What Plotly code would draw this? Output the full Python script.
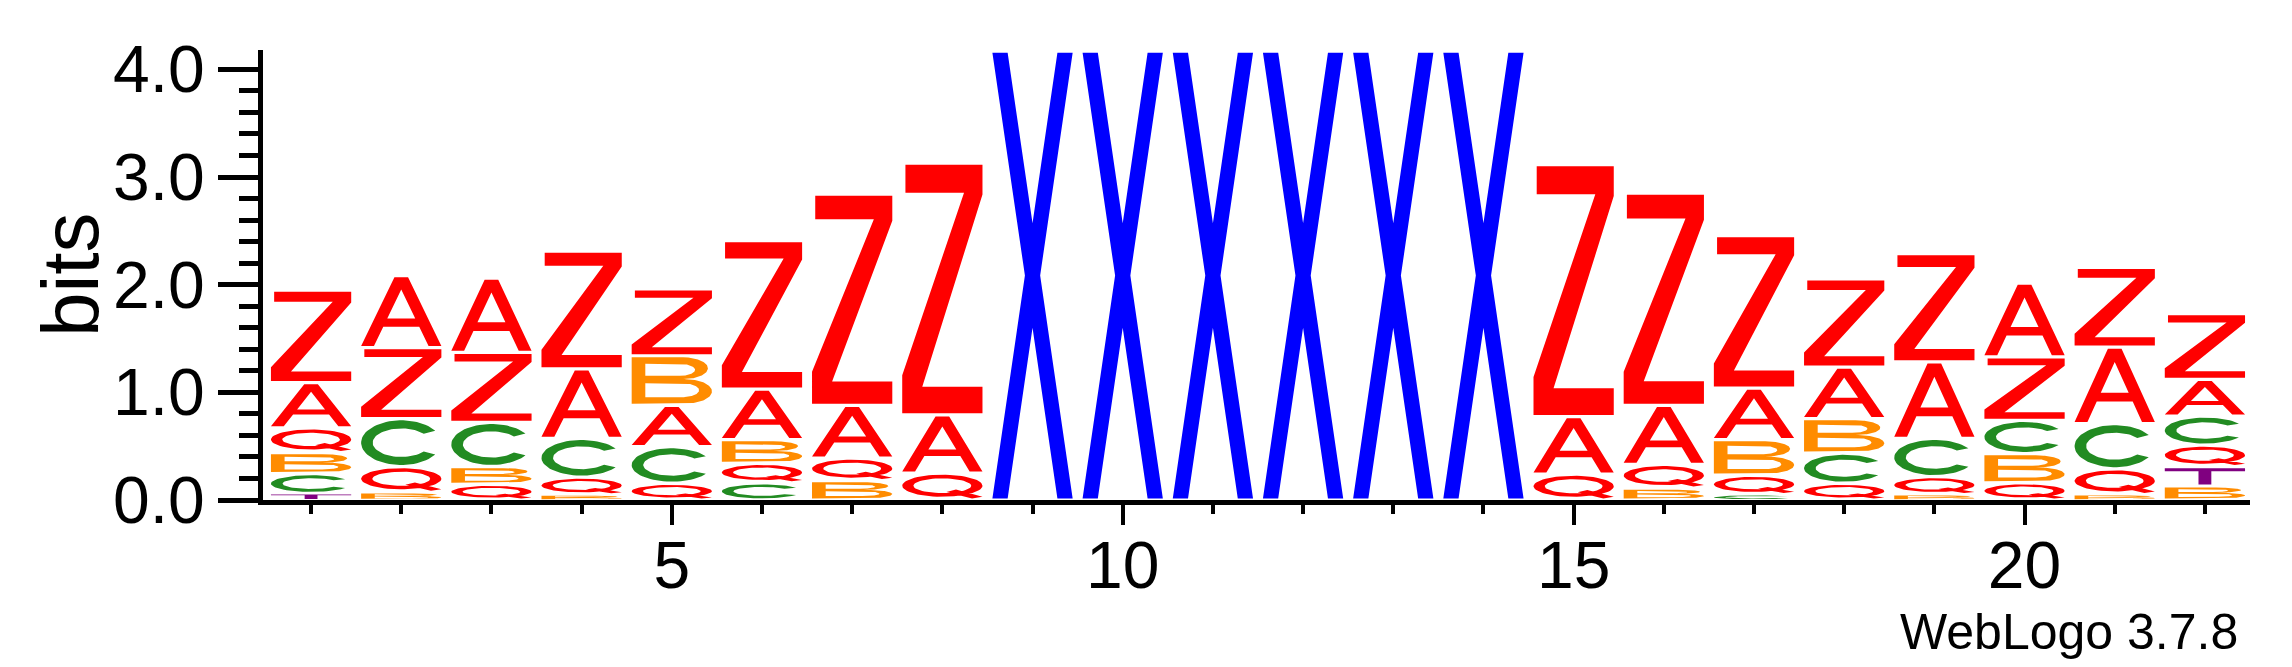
import numpy as np
import plotly.graph_objects as go

# sequence logo: information (bits) per letter at each position
positions = list(range(1, 23))

bits_A = [0.42, 0.67, 0.69, 0.645, 0.385, 0.47, 0.49, 0.54, 0, 0, 0, 0, 0, 0,
          0.535, 0.55, 0.48, 0.48, 0.71, 0.685, 0.71, 0.34]
bits_B = [0.195, 0.07, 0.165, 0.047, 0.46, 0.22, 0.18, 0, 0, 0, 0, 0, 0, 0,
          0, 0.11, 0.33, 0.32, 0.05, 0.27, 0.05, 0.13]
bits_C = [0.185, 0.445, 0.41, 0.36, 0.34, 0.16, 0, 0, 0, 0, 0, 0, 0, 0,
          0, 0, 0.05, 0.28, 0.356, 0.31, 0.42, 0.27]
bits_Q = [0.23, 0.24, 0.146, 0.165, 0.155, 0.18, 0.21, 0.25, 0, 0, 0, 0, 0, 0,
          0.24, 0.22, 0.18, 0.155, 0.167, 0.16, 0.24, 0.20]
bits_T = [0.06, 0, 0, 0, 0, 0, 0, 0, 0, 0, 0, 0, 0, 0,
          0, 0, 0, 0, 0, 0, 0, 0.18]
bits_X = [0, 0, 0, 0, 0, 0, 0, 0, 4.17, 4.17, 4.17, 4.17, 4.17, 4.17,
          0, 0, 0, 0, 0, 0, 0, 0]
bits_Z = [0.86, 0.66, 0.65, 1.095, 0.62, 1.38, 1.96, 2.34, 0, 0, 0, 0, 0, 0,
          2.34, 1.97, 1.415, 0.82, 1.006, 0.59, 0.74, 0.61]

heights = {"A": bits_A, "B": bits_B, "C": bits_C, "Q": bits_Q,
           "T": bits_T, "X": bits_X, "Z": bits_Z}

colors = {"A": "#ff0000", "Z": "#ff0000", "Q": "#ff0000",
          "C": "#228b22", "B": "#ff8c00", "X": "#0000ff", "T": "#800080"}

x_ticks = [5, 10, 15, 20]
y_ticks = [0, 1, 2, 3, 4]
y_ticktext = ["0.0", "1.0", "2.0", "3.0", "4.0"]


# ---- glyph outlines in a unit box (x: 0..1 width, y: 0..1 height) ----
def arc(cx, cy, rx, ry, a0, a1, n=60):
    t = np.radians(np.linspace(a0, a1, n))
    return np.column_stack([cx + rx * np.cos(t), cy + ry * np.sin(t)])


def poly(pts):
    return np.array(pts, dtype=float)


def x_glyph(s=0.19):
    top_y = 1 / (2 * (1 - s))
    bot_y = (1 - s / (1 - s)) / 2
    return poly([(0, 1), (s, 1), (0.5, top_y), (1 - s, 1), (1, 1),
                 (s + (1 - s) / 2, 0.5), (1, 0), (1 - s, 0), (0.5, bot_y),
                 (s, 0), (0, 0), ((1 - s) / 2, 0.5)])


GLYPHS = {
    "A": [(poly([(0, 0), (0.16, 0), (0.276, 0.28), (0.724, 0.28), (0.84, 0),
                 (1, 0), (0.585, 1), (0.415, 1)]), False),
          (poly([(0.326, 0.40), (0.674, 0.40), (0.5, 0.82)]), True)],
    "B": [(np.vstack([[(0, 0)], arc(0.66, 0.265, 0.34, 0.265, -90, 90),
                      arc(0.64, 0.765, 0.31, 0.235, -90, 90), [(0, 1)]]), False),
          (np.vstack([[(0.17, 0.60)], arc(0.60, 0.73, 0.19, 0.13, -90, 90),
                      [(0.17, 0.86)]]), True),
          (np.vstack([[(0.17, 0.14)], arc(0.63, 0.29, 0.21, 0.15, -90, 90),
                      [(0.17, 0.44)]]), True)],
    "C": [(np.vstack([arc(0.5, 0.5, 0.5, 0.5, 32, 328),
                      arc(0.5, 0.5, 0.356, 0.32, 322, 38)]), False)],
    "Q": [(arc(0.5, 0.535, 0.5, 0.465, 0, 360), False),
          (arc(0.5, 0.535, 0.36, 0.31, 0, 360), True),
          (poly([(0.55, 0.27), (0.67, 0.37), (1.0, 0.07), (0.87, 0.0)]), False)],
    "T": [(poly([(0, 1), (1, 1), (1, 0.82), (0.58, 0.82), (0.58, 0), (0.42, 0),
                 (0.42, 0.82), (0, 0.82)]), False)],
    "X": [(x_glyph(), False)],
    "Z": [(poly([(0.04, 1), (1, 1), (1, 0.88), (0.25, 0.107), (1, 0.107), (1, 0),
                 (0, 0), (0, 0.153), (0.77, 0.887), (0.04, 0.887)]), False)],
}


def oriented(pts, hole):
    x, y = pts[:, 0], pts[:, 1]
    area = 0.5 * np.sum(x * np.roll(y, -1) - np.roll(x, -1) * y)
    if (area > 0) == hole:
        pts = pts[::-1]
    return pts


LETTER_W = 0.89

paths = {k: ([], []) for k in heights}
for i, p in enumerate(positions):
    stack = [(k, heights[k][i]) for k in heights if heights[k][i] > 0]
    stack.sort(key=lambda s: s[1])
    y0 = 0.0
    for k, h in stack:
        pad = min(0.015, 0.15 * h)
        xs, ys = paths[k]
        for pts, hole in GLYPHS[k]:
            pts = oriented(pts, hole)
            gx = p - LETTER_W / 2 + pts[:, 0] * LETTER_W
            gy = y0 + pad + pts[:, 1] * (h - 2 * pad)
            xs.extend(list(gx) + [gx[0], None])
            ys.extend(list(gy) + [gy[0], None])
        y0 += h

fig = go.Figure()
for k, (xs, ys) in paths.items():
    if not xs:
        continue
    fig.add_trace(go.Scatter(x=xs, y=ys, mode="lines", fill="toself",
                             fillcolor=colors[k], line=dict(width=0, color=colors[k]),
                             hoverinfo="skip", name=k, showlegend=False))

FONT = "Liberation Sans, Arial, Helvetica, sans-serif"

fig.update_layout(
    width=2292, height=667,
    margin=dict(l=263, r=42, t=50, b=167, pad=0),
    plot_bgcolor="white", paper_bgcolor="white",
    font=dict(family=FONT, color="black"),
    showlegend=False,
)
fig.update_xaxes(
    range=[0.467, 22.5], tickmode="array", tickvals=x_ticks,
    ticktext=[str(v) for v in x_ticks], ticks="outside", ticklen=20, tickwidth=4,
    tickcolor="black", showline=True, linewidth=5, linecolor="black",
    showgrid=False, zeroline=False, tickfont=dict(size=66, family=FONT),
    ticklabelstandoff=-16,
    minor=dict(tickmode="linear", tick0=0, dtick=1, ticks="outside", ticklen=9,
               tickwidth=4, tickcolor="black", showgrid=False),
)
fig.update_yaxes(
    range=[0, 4.18], tickmode="array", tickvals=y_ticks, ticktext=y_ticktext,
    ticks="outside", ticklen=40, tickwidth=5, tickcolor="black",
    showline=True, linewidth=5, linecolor="black",
    showgrid=False, zeroline=False, tickfont=dict(size=66, family=FONT),
    minor=dict(tickmode="linear", tick0=0, dtick=0.2, ticks="outside", ticklen=19,
               tickwidth=5, tickcolor="black", showgrid=False),
)

fig.add_annotation(text="bits", xref="paper", yref="paper",
                   x=(70 - 263) / 1987, y=0.5, xanchor="center", yanchor="middle",
                   textangle=-90, showarrow=False, font=dict(size=80, family=FONT))
fig.add_annotation(text="WebLogo 3.7.8", xref="paper", yref="paper",
                   x=(2240 - 263) / 1987, y=(500 - 632) / 450, xanchor="right",
                   yanchor="middle", showarrow=False, font=dict(size=50, family=FONT))

fig.write_html("out.html", config={"displayModeBar": False},
               post_script="document.body.style.margin = '0';")
